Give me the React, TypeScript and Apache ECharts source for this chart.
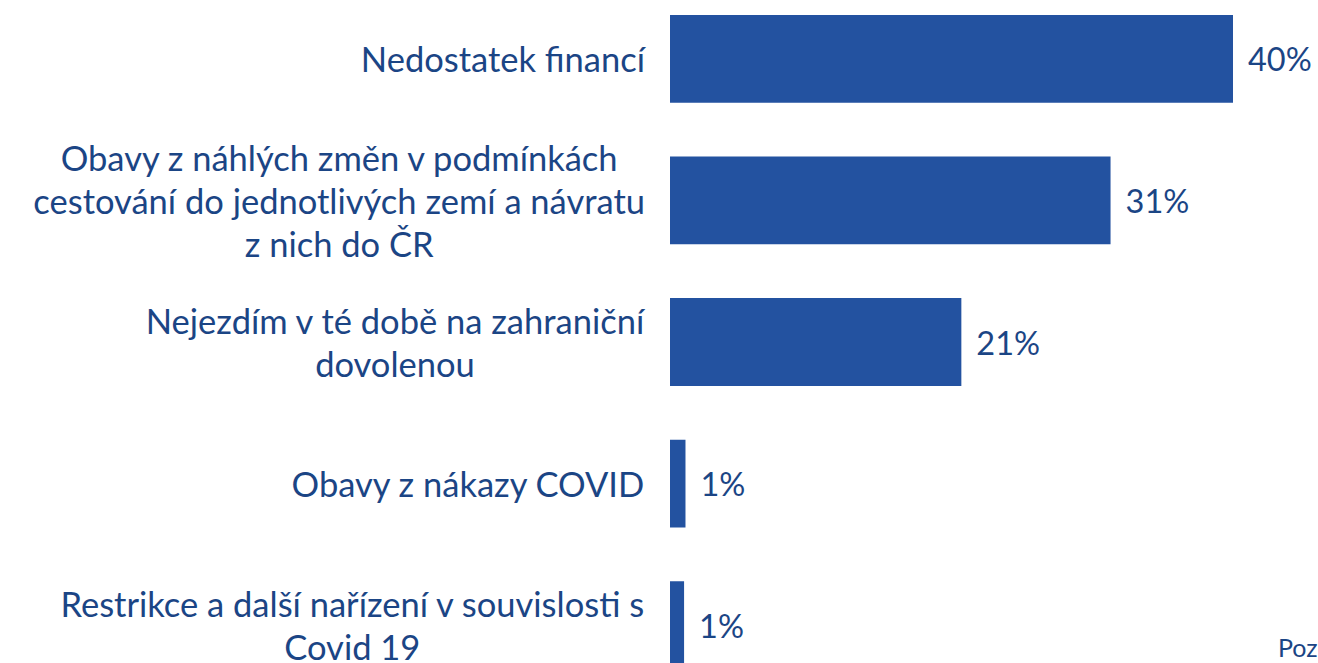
import React, { useEffect, useRef } from "react";
import * as echarts from "echarts";

const categories = [
  "Nedostatek financí",
  "Obavy z náhlých změn v podmínkách\ncestování do jednotlivých zemí a návratu\nz nich do ČR",
  "Nejezdím v té době na zahraniční\ndovolenou",
  "Obavy z nákazy COVID",
  "Restrikce a další nařízení v souvislosti s\nCovid 19",
];
const values = [40, 31.3, 20.7, 1.1, 1.0];
const footnote = "Poz";

const BAR = "#2352a0";
const TEXT = "#1b4585";
const FONT = "Lato, 'Open Sans', sans-serif";

export default function App() {
  const ref = useRef<HTMLDivElement>(null);
  useEffect(() => {
    if (!ref.current) return;
    const chart = echarts.init(ref.current, undefined, { renderer: "svg" });
    chart.setOption({
      animation: false,
      grid: { left: 670, right: 85, top: 0, bottom: 0, containLabel: false },
      xAxis: {
        type: "value",
        min: 0,
        max: 40,
        show: false,
      },
      yAxis: {
        type: "category",
        inverse: true,
        data: categories,
        axisLine: { show: false },
        axisTick: { show: false },
        splitLine: { show: false },
        axisLabel: {
          margin: 25,
          align: "right",
          formatter: (v: string) =>
            v
              .split("\n")
              .map((l) => `{c|${l}}`)
              .join("\n"),
          rich: {
            c: {
              align: "center",
              fontSize: 34.5,
              lineHeight: 43,
              color: TEXT,
              fontFamily: FONT,
            },
          },
        },
      },
      series: [
        {
          type: "bar",
          data: values,
          barCategoryGap: "38%",
          itemStyle: { color: BAR },
          label: {
            show: true,
            position: "right",
            distance: 15,
            formatter: (p: any) => `${Math.round(p.value)}%`,
            fontSize: 32.5,
            color: TEXT,
            fontFamily: FONT,
          },
        },
      ],
      graphic: [
        {
          type: "text",
          left: 1278,
          top: 646,
          style: {
            text: footnote,
            fontSize: 25,
            fill: TEXT,
            fontFamily: FONT,
          },
        },
      ],
    });
    return () => chart.dispose();
  }, []);
  return (
    <div
      ref={ref}
      style={{
        position: "absolute",
        left: 0,
        top: -12,
        width: 1318,
        height: 708,
        overflow: "hidden",
      }}
    />
  );
}
